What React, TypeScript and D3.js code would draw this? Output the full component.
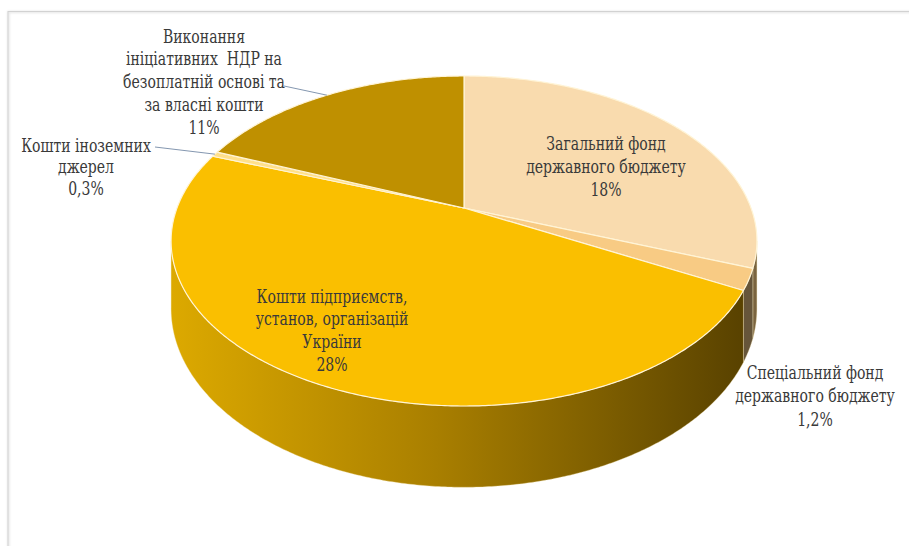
import React from "react";
import * as d3 from "d3";

const categories = [
  "Загальний фонд державного бюджету",
  "Спеціальний фонд державного бюджету",
  "Кошти підприємств, установ, організацій України",
  "Кошти іноземних джерел",
  "Виконання ініціативних НДР на безоплатній основі та за власні кошти",
];
const values = [18, 1.2, 28, 0.3, 11];
const valueLabels = ["18%", "1,2%", "28%", "0,3%", "11%"];
const labelLines = [
  ["Загальний фонд", "державного бюджету"],
  ["Спеціальний фонд", "державного бюджету"],
  ["Кошти підприємств,", "установ, організацій", "України"],
  ["Кошти іноземних", "джерел"],
  ["Виконання", "ініціативних  НДР на", "безоплатній основі та", "за власні кошти"],
];
const topColors = ["#F9DBAE", "#F8CB84", "#FABF00", "#FFE08A", "#BF9000"];
const sideColors = ["#7A6440", "#66553A", "url(#sideGrad)", "#8A6A00", "#6A5000"];

const labelLayout = [
  { x: 606, y: 143, lh: 23.5 },
  { x: 815, y: 372, lh: 24 },
  { x: 332, y: 296, lh: 23 },
  { x: 86, y: 145, lh: 22, leader: [155, 147] },
  { x: 204, y: 36, lh: 23, leader: [284, 86] },
];

const W = 909;
const H = 546;
const cx = 464;
const cy = 208;
const Rx = 287;
const Ry = 158.4;
const k = 0.2;
const depth = 65;

function proj(theta: number, drop = 0): [number, number] {
  const c = Math.cos(theta);
  const s = Math.sin(theta);
  const p = 1 / (1 + k * c);
  return [cx + Rx * s * p, cy - Ry * c * p + drop * p];
}

function arcPoints(a0: number, a1: number, drop = 0): [number, number][] {
  const n = Math.max(2, Math.ceil(Math.abs(a1 - a0) / (Math.PI / 360)));
  const pts: [number, number][] = [];
  for (let i = 0; i <= n; i++) {
    pts.push(proj(a0 + ((a1 - a0) * i) / n, drop));
  }
  return pts;
}

const FONT = "DejaVu Serif";

export default function App() {
  const pie = d3.pie<number>().sort(null).value((d) => d);
  const arcs = pie(values);

  const visStart = Math.acos(-k);
  const visEnd = 2 * Math.PI - Math.acos(-k);

  const line = d3.line<[number, number]>();

  const sides = arcs
    .map((a, i) => {
      const s = Math.max(a.startAngle, visStart);
      const e = Math.min(a.endAngle, visEnd);
      if (e <= s) return null;
      const top = arcPoints(s, e, 0);
      const bot = arcPoints(e, s, depth);
      return { i, d: line([...top, ...bot])! + "Z" };
    })
    .filter(Boolean) as { i: number; d: string }[];

  const tops = arcs.map((a, i) => {
    const pts = arcPoints(a.startAngle, a.endAngle, 0);
    return { i, d: line([[cx, cy], ...pts])! + "Z" };
  });

  return (
    <svg
      width={W}
      height={H}
      style={{ position: "absolute", left: 0, top: 0, background: "#fff" }}
    >
      <defs>
        <linearGradient id="sideGrad" gradientUnits="userSpaceOnUse" x1={172} y1={0} x2={758} y2={0}>
          <stop offset="0" stopColor="#DCA900" />
          <stop offset="0.45" stopColor="#A97F00" />
          <stop offset="1" stopColor="#553F00" />
        </linearGradient>
        <filter id="blurShadow" x="-10%" y="-10%" width="120%" height="120%">
          <feGaussianBlur stdDeviation="1" />
        </filter>
      </defs>
      <rect x={0} y={0} width={W} height={H} fill="#fff" />
      <rect x={8.5} y={12} width={W + 10} height={H + 10} fill="none" stroke="#E4E4E4" strokeWidth={2} filter="url(#blurShadow)" />
      <rect x={8} y={11.5} width={W + 10} height={H + 10} fill="none" stroke="#D2D2D2" strokeWidth={1} />

      {sides.map((s) => (
        <path key={"s" + s.i} d={s.d} fill={sideColors[s.i]} stroke="#F3E2B0" strokeWidth={0.6} strokeOpacity={0.6} />
      ))}
      {tops.map((t) => (
        <path key={"t" + t.i} d={t.d} fill={topColors[t.i]} stroke="#FFF4D6" strokeWidth={1.2} strokeLinejoin="round" />
      ))}

      {arcs.map((a, i) => {
        const lay = labelLayout[i];
        if (!lay.leader) return null;
        const [px, py] = proj((a.startAngle + a.endAngle) / 2, 0);
        return (
          <line
            key={"l" + i}
            x1={lay.leader[0]}
            y1={lay.leader[1]}
            x2={px}
            y2={py}
            stroke="#8497B0"
            strokeWidth={1}
          />
        );
      })}

      {categories.map((c, i) => {
        const lay = labelLayout[i];
        const lines = [...labelLines[i], valueLabels[i]];
        return (
          <text
            key={"t" + c}
            transform={`translate(${lay.x},${lay.y + 6.5}) scale(0.78,1)`}
            textAnchor="middle"
            fontFamily={FONT}
            fontSize={18}
            fill="#3A3A3A"
            style={{ whiteSpace: "pre" }}
          >
            {lines.map((ln, j) => (
              <tspan key={j} x={0} y={j * lay.lh}>
                {ln}
              </tspan>
            ))}
          </text>
        );
      })}
    </svg>
  );
}
